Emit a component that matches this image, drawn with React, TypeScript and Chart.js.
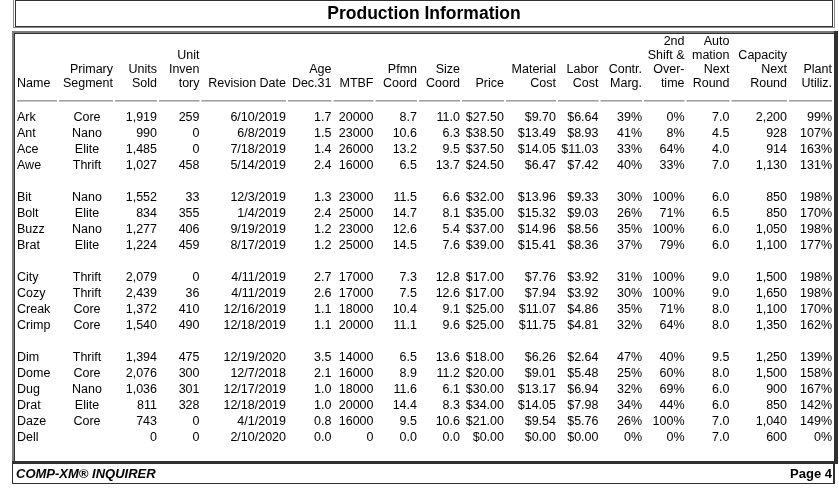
import React, { useEffect, useRef } from "react";
import { Chart, registerables } from "chart.js";

Chart.register(...registerables);

// ---------- data ----------
const names = ["Ark", "Ant", "Ace", "Awe", "Bit", "Bolt", "Buzz", "Brat", "City", "Cozy", "Creak", "Crimp", "Dim", "Dome", "Dug", "Drat", "Daze", "Dell"];
const segments = ["Core", "Nano", "Elite", "Thrift", "Nano", "Elite", "Nano", "Elite", "Thrift", "Thrift", "Core", "Core", "Thrift", "Core", "Nano", "Elite", "Core", ""];
const unitsSold = [1919, 990, 1485, 1027, 1552, 834, 1277, 1224, 2079, 2439, 1372, 1540, 1394, 2076, 1036, 811, 743, 0];
const unitInventory = [259, 0, 0, 458, 33, 355, 406, 459, 0, 36, 410, 490, 475, 300, 301, 328, 0, 0];
const revisionDates = ["6/10/2019", "6/8/2019", "7/18/2019", "5/14/2019", "12/3/2019", "1/4/2019", "9/19/2019", "8/17/2019", "4/11/2019", "4/11/2019", "12/16/2019", "12/18/2019", "12/19/2020", "12/7/2018", "12/17/2019", "12/18/2019", "4/1/2019", "2/10/2020"];
const ageDec31 = [1.7, 1.5, 1.4, 2.4, 1.3, 2.4, 1.2, 1.2, 2.7, 2.6, 1.1, 1.1, 3.5, 2.1, 1.0, 1.0, 0.8, 0.0];
const mtbf = [20000, 23000, 26000, 16000, 23000, 25000, 23000, 25000, 17000, 17000, 18000, 20000, 14000, 16000, 18000, 20000, 16000, 0];
const pfmnCoord = [8.7, 10.6, 13.2, 6.5, 11.5, 14.7, 12.6, 14.5, 7.3, 7.5, 10.4, 11.1, 6.5, 8.9, 11.6, 14.4, 9.5, 0.0];
const sizeCoord = [11.0, 6.3, 9.5, 13.7, 6.6, 8.1, 5.4, 7.6, 12.8, 12.6, 9.1, 9.6, 13.6, 11.2, 6.1, 8.3, 10.6, 0.0];
const price = [27.5, 38.5, 37.5, 24.5, 32.0, 35.0, 37.0, 39.0, 17.0, 17.0, 25.0, 25.0, 18.0, 20.0, 30.0, 34.0, 21.0, 0];
const materialCost = [9.7, 13.49, 14.05, 6.47, 13.96, 15.32, 14.96, 15.41, 7.76, 7.94, 11.07, 11.75, 6.26, 9.01, 13.17, 14.05, 9.54, 0];
const laborCost = [6.64, 8.93, 11.03, 7.42, 9.33, 9.03, 8.56, 8.36, 3.92, 3.92, 4.86, 4.81, 2.64, 5.48, 6.94, 7.98, 5.76, 0];
const contrMargin = [39, 41, 33, 40, 30, 26, 35, 37, 31, 30, 35, 32, 47, 25, 32, 34, 26, 0];
const overtime = [0, 8, 64, 33, 100, 71, 100, 79, 100, 100, 71, 64, 40, 60, 69, 44, 100, 0];
const automationNext = [7.0, 4.5, 4.0, 7.0, 6.0, 6.5, 6.0, 6.0, 9.0, 9.0, 8.0, 8.0, 9.5, 8.0, 6.0, 6.0, 7.0, 7.0];
const capacityNext = [2200, 928, 914, 1130, 850, 850, 1050, 1100, 1500, 1650, 1100, 1350, 1250, 1500, 900, 850, 1040, 600];
const plantUtil = [99, 107, 163, 131, 198, 170, 198, 177, 198, 198, 170, 162, 139, 158, 167, 142, 149, 0];

const titleText = "Production Information";
const footerLeft = "COMP-XM® INQUIRER";
const footerRight = "Page 4";

// ---------- formatting ----------
const comma = (v: number) => v.toLocaleString("en-US");
const f1 = (v: number) => v.toFixed(1);
const money = (v: number) => "$" + v.toFixed(2);
const pct = (v: number) => v + "%";

type Align = "left" | "center" | "right";
interface Col { header: string[]; cells: string[]; align: Align; headAlign: Align; }

const columns: Col[] = [
  { header: ["Name"], cells: names, align: "left", headAlign: "left" },
  { header: ["Primary", "Segment"], cells: segments, align: "center", headAlign: "right" },
  { header: ["Units", "Sold"], cells: unitsSold.map(comma), align: "right", headAlign: "right" },
  { header: ["Unit", "Inven", "tory"], cells: unitInventory.map(String), align: "right", headAlign: "right" },
  { header: ["Revision Date"], cells: revisionDates, align: "right", headAlign: "right" },
  { header: ["Age", "Dec.31"], cells: ageDec31.map(f1), align: "right", headAlign: "right" },
  { header: ["MTBF"], cells: mtbf.map(String), align: "right", headAlign: "right" },
  { header: ["Pfmn", "Coord"], cells: pfmnCoord.map(f1), align: "right", headAlign: "right" },
  { header: ["Size", "Coord"], cells: sizeCoord.map(f1), align: "right", headAlign: "right" },
  { header: ["Price"], cells: price.map(money), align: "right", headAlign: "right" },
  { header: ["Material", "Cost"], cells: materialCost.map(money), align: "right", headAlign: "right" },
  { header: ["Labor", "Cost"], cells: laborCost.map(money), align: "right", headAlign: "right" },
  { header: ["Contr.", "Marg."], cells: contrMargin.map(pct), align: "right", headAlign: "right" },
  { header: ["2nd", "Shift &", "Over-", "time"], cells: overtime.map(pct), align: "right", headAlign: "right" },
  { header: ["Auto", "mation", "Next", "Round"], cells: automationNext.map(f1), align: "right", headAlign: "right" },
  { header: ["Capacity", "Next", "Round"], cells: capacityNext.map(comma), align: "right", headAlign: "right" },
  { header: ["Plant", "Utiliz."], cells: plantUtil.map(pct), align: "right", headAlign: "right" },
];

// ---------- layout (styles, not data) ----------
const colWidths = [42, 56, 44, 42.5, 86.5, 45.5, 42, 43.5, 43, 44, 52, 42.5, 43.5, 42.5, 45, 57.5, 45];
const W = 839;
const H = 489;
const FONT = '"Liberation Sans", Arial, sans-serif';
const CELL_FONT = `12.5px ${FONT}`;

// row slots: blank line between groups (grouped by first letter of name)
const rowSlots: number[] = (() => {
  const out: number[] = [];
  let gap = 0;
  names.forEach((n, i) => {
    if (i > 0 && n[0] !== names[i - 1][0]) gap++;
    out.push(i + gap);
  });
  return out;
})();
const maxSlot = rowSlots[rowSlots.length - 1];

const colLefts: number[] = [];
const colRights: number[] = [];
{
  let acc = 0;
  colWidths.forEach((w) => {
    colLefts.push(acc);
    acc += w;
    colRights.push(acc);
  });
}
const totalWidth = colRights[colRights.length - 1];

const anchorFor = (ci: number, align: Align) =>
  align === "left" ? colLefts[ci] + 2 : align === "center" ? (colLefts[ci] + colRights[ci]) / 2 + 2 : colRights[ci];

const tablePlugin = {
  id: "tablePlugin",
  beforeDraw(chart: any) {
    const ctx = chart.ctx;
    ctx.save();
    ctx.fillStyle = "#ffffff";
    ctx.fillRect(0, 0, chart.width, chart.height);
    ctx.restore();
  },
  afterDraw(chart: any) {
    const ctx: CanvasRenderingContext2D = chart.ctx;
    const xs = chart.scales.x;
    const area = chart.chartArea;
    ctx.save();

    // ---- frames ----
    ctx.lineWidth = 1;
    ctx.strokeStyle = "#8a8a8a";
    ctx.strokeRect(13.5, -0.5, 821, 28);
    ctx.strokeStyle = "#303030";
    ctx.strokeRect(15.5, 0.5, 817, 26);

    ctx.fillStyle = "#7a7a7a";
    ctx.fillRect(12, 31, 826, 2);
    ctx.fillRect(12, 31, 2, 433);
    ctx.fillStyle = "#303030";
    ctx.fillRect(14, 33, 820, 1);
    ctx.fillRect(14, 33, 1, 429);
    ctx.fillRect(834, 31, 4, 433);
    ctx.fillRect(12, 461, 826, 3);

    ctx.fillStyle = "#303030";
    ctx.fillRect(12, 464, 1, 20);
    ctx.fillRect(833, 464, 2, 20);
    ctx.fillRect(12, 483, 823, 1);

    // ---- title ----
    ctx.fillStyle = "#000";
    ctx.textBaseline = "middle";
    ctx.textAlign = "center";
    ctx.font = `bold 17.5px ${FONT}`;
    ctx.fillText(titleText, 424, 14);

    // ---- footer ----
    ctx.textAlign = "left";
    ctx.font = `italic bold 13px ${FONT}`;
    ctx.fillText(footerLeft, 16, 474);
    ctx.textAlign = "right";
    ctx.font = `bold 13px ${FONT}`;
    ctx.fillText(footerRight, 832, 474);

    // ---- headers ----
    ctx.font = CELL_FONT;
    const lineH = 14;
    const lastHeaderY = area.top - 25;
    columns.forEach((col, ci) => {
      ctx.textAlign = col.headAlign;
      const x = xs.getPixelForValue(anchorFor(ci, col.headAlign === "left" ? "left" : "right"));
      const n = col.header.length;
      col.header.forEach((line, li) => {
        ctx.fillText(line, x, lastHeaderY - (n - 1 - li) * lineH);
      });
      const x0 = xs.getPixelForValue(colLefts[ci]) + 2;
      const x1 = xs.getPixelForValue(colRights[ci]);
      ctx.fillStyle = "#a0a0a0";
      ctx.fillRect(x0, area.top - 9, x1 - x0, 1);
      ctx.fillStyle = "#c8c8c8";
      ctx.fillRect(x0, area.top - 8, x1 - x0, 1);
      ctx.fillStyle = "#000";
    });

    // ---- cells (positions from the chart's elements) ----
    ctx.font = CELL_FONT;
    chart.data.datasets.forEach((ds: any, di: number) => {
      const meta = chart.getDatasetMeta(di);
      ctx.textAlign = ds.textAlign;
      meta.data.forEach((el: any, i: number) => {
        const t = ds.cellText[i];
        if (t) ctx.fillText(t, el.x, el.y + 0.5);
      });
    });

    ctx.restore();
  },
};

export default function App() {
  const ref = useRef<HTMLCanvasElement | null>(null);

  useEffect(() => {
    document.body.style.margin = "0";
    const canvas = ref.current;
    if (!canvas) return;
    const datasets = columns.map((col, ci) => ({
      label: col.header.join(" "),
      data: col.cells.map((_, ri) => ({ x: anchorFor(ci, col.align), y: rowSlots[ri] })),
      cellText: col.cells,
      textAlign: col.align,
      pointRadius: 0,
      pointHoverRadius: 0,
      showLine: false,
    }));
    const chart = new Chart(canvas, {
      type: "scatter",
      data: { datasets: datasets as any },
      options: {
        animation: false,
        responsive: false,
        events: [],
        layout: { padding: { left: 15, right: W - 15 - totalWidth, top: 109, bottom: H - 109 - (maxSlot + 1) * 16 } },
        plugins: { legend: { display: false }, tooltip: { enabled: false }, title: { display: false } },
        scales: {
          x: { type: "linear", min: 0, max: totalWidth, display: false },
          y: { type: "linear", min: -0.5, max: maxSlot + 0.5, reverse: true, display: false },
        },
      },
      plugins: [tablePlugin],
    });
    return () => chart.destroy();
  }, []);

  return (
    <div style={{ width: W, height: H }}>
      <canvas ref={ref} width={W} height={H} style={{ display: "block" }} />
    </div>
  );
}
